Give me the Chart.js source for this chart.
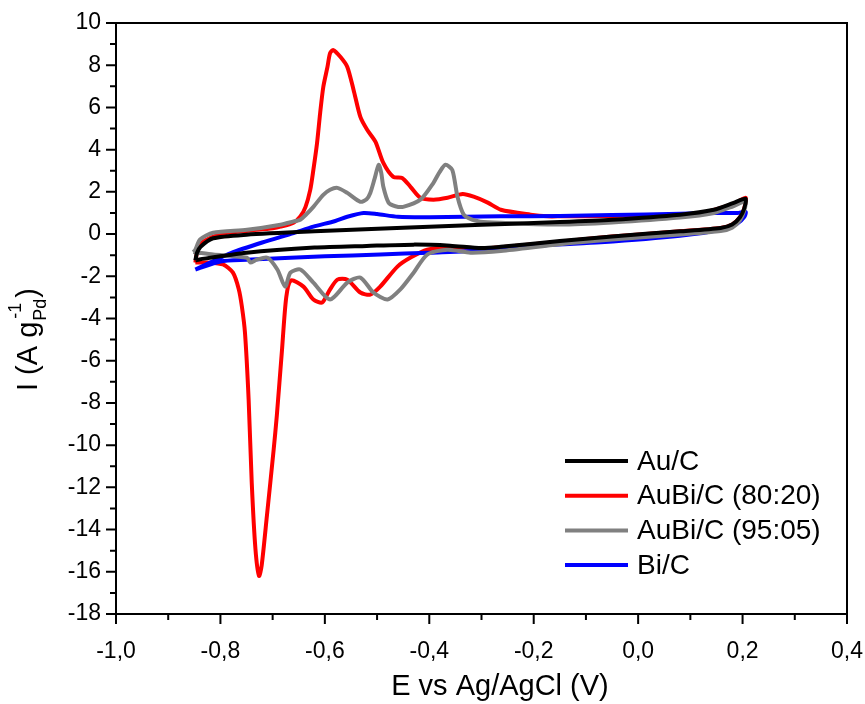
<!DOCTYPE html>
<html>
<head>
<meta charset="utf-8">
<script src="https://cdn.jsdelivr.net/npm/chart.js@4.4.0/dist/chart.umd.min.js"></script>
<style>
    html, body { margin: 0; padding: 0; background: #fff; }
</style>
</head>
<body>
<canvas id="cvChart" width="865" height="704"></canvas>
<script>
// Series names and colours (legend order)
const seriesNames = ['Au/C', 'AuBi/C (80:20)', 'AuBi/C (95:05)', 'Bi/C'];
const seriesColors = ['#000000', '#ff0000', '#808080', '#0000ff'];

// Au/C : potential (V) and current (A g-1), anodic then cathodic scan
const auC_E = [-0.848, -0.845, -0.838, -0.814, -0.75, -0.62, -0.45, -0.30, -0.15, -0.05, 0.08, 0.145, 0.183, 0.206,
    0.203, 0.195, 0.18, 0.158, 0.08, -0.05, -0.15, -0.263, -0.30, -0.36, -0.43, -0.52, -0.62, -0.75, -0.84, -0.848];
const auC_I = [-1.25, -0.9, -0.6, -0.2, -0.03, 0.13, 0.3, 0.44, 0.57, 0.68, 0.92, 1.15, 1.48, 1.67,
    1.2, 0.8, 0.45, 0.29, 0.13, -0.11, -0.33, -0.6, -0.66, -0.55, -0.5, -0.56, -0.64, -0.88, -1.2, -1.25];

// AuBi/C (80:20)
const auBi80_E = [-0.848, -0.845, -0.835, -0.80, -0.75, -0.70, -0.685, -0.66, -0.647, -0.637, -0.628, -0.622, -0.615, -0.609,
    -0.603, -0.595, -0.59, -0.584, -0.570, -0.557, -0.545, -0.532, -0.519, -0.503, -0.488, -0.469, -0.452, -0.436, -0.417,
    -0.392, -0.365, -0.336, -0.315, -0.288, -0.263, -0.206, -0.173, -0.15, -0.05, 0.05, 0.12, 0.16, 0.19, 0.206,
    0.203, 0.195, 0.18, 0.158, 0.08, -0.05, -0.15, -0.263, -0.30, -0.36, -0.404, -0.435, -0.461, -0.494, -0.513, -0.532,
    -0.557, -0.576, -0.592, -0.605, -0.622, -0.641, -0.665, -0.674, -0.682, -0.692, -0.698, -0.711, -0.721, -0.726,
    -0.733, -0.740, -0.746, -0.753, -0.759, -0.765, -0.776, -0.795, -0.825, -0.848];
const auBi80_I = [-1.35, -0.9, -0.4, 0.0, 0.15, 0.28, 0.35, 0.54, 0.83, 1.29, 2.09, 3.04, 4.3, 5.74,
    6.97, 7.92, 8.57, 8.72, 8.39, 7.92, 6.83, 5.55, 4.94, 4.37, 3.37, 2.71, 2.66, 2.24, 1.72,
    1.63, 1.72, 1.9, 1.77, 1.49, 1.15, 0.92, 0.84, 0.84, 0.86, 0.88, 1.0, 1.25, 1.52, 1.72,
    1.2, 0.8, 0.45, 0.29, 0.13, -0.12, -0.36, -0.62, -0.68, -0.62, -0.74, -1.1, -1.54, -2.49, -2.87, -2.77,
    -2.16, -2.16, -2.7, -3.24, -3.1, -2.49, -2.2, -3.0, -5.46, -8.6, -10.2, -13.35, -15.7, -16.2,
    -14.9, -11.8, -7.83, -4.67, -3.42, -2.6, -1.83, -1.44, -1.35, -1.35];

// AuBi/C (95:05)
const auBi95_E = [-0.852, -0.848, -0.839, -0.814, -0.749, -0.685, -0.66, -0.647, -0.635, -0.622, -0.603, -0.59, -0.576,
    -0.557, -0.532, -0.52, -0.513, -0.505, -0.497, -0.492, -0.488, -0.478, -0.465, -0.45, -0.417, -0.392, -0.38, -0.369,
    -0.356, -0.346, -0.334, -0.318, -0.302, -0.263, -0.15, -0.05, 0.08, 0.145, 0.183, 0.206,
    0.203, 0.195, 0.18, 0.158, 0.08, -0.05, -0.15, -0.263, -0.321, -0.365, -0.404, -0.43, -0.455, -0.48, -0.507,
    -0.532, -0.557, -0.59, -0.622, -0.647, -0.666, -0.676, -0.691, -0.71, -0.73, -0.743, -0.749, -0.814, -0.843, -0.852];
const auBi95_I = [-0.85, -0.74, -0.26, 0.06, 0.2, 0.44, 0.6, 0.68, 0.95, 1.29, 1.86, 2.1, 2.19,
    1.95, 1.53, 1.65, 1.95, 2.6, 3.28, 2.9, 2.24, 1.49, 1.32, 1.29, 1.63, 2.43, 2.95, 3.28,
    3.04, 1.77, 0.92, 0.68, 0.59, 0.54, 0.45, 0.55, 0.78, 1.0, 1.33, 1.55,
    1.1, 0.65, 0.3, 0.14, -0.02, -0.26, -0.48, -0.8, -0.88, -0.74, -0.97, -1.83, -2.61, -3.1, -2.77,
    -2.06, -2.3, -3.1, -2.3, -1.68, -1.83, -2.49, -1.68, -1.12, -1.21, -1.35, -1.12, -0.97, -0.88, -0.85];

// Bi/C
const biC_E = [-0.848, -0.82, -0.78, -0.72, -0.66, -0.622, -0.58, -0.557, -0.526, -0.5, -0.46, -0.40, -0.263, -0.15,
    -0.05, 0.08, 0.15, 0.19, 0.206,
    0.203, 0.19, 0.158, 0.08, -0.072, -0.173, -0.302, -0.40, -0.494, -0.60, -0.666, -0.75, -0.80, -0.848];
const biC_I = [-1.68, -1.35, -0.9, -0.4, 0.05, 0.35, 0.62, 0.82, 1.0, 0.95, 0.82, 0.8, 0.84, 0.86,
    0.9, 0.96, 1.0, 1.0, 1.05,
    0.8, 0.5, 0.2, -0.08, -0.39, -0.52, -0.78, -0.88, -0.97, -1.05, -1.12, -1.22, -1.3, -1.68];

const FONT = '"Liberation Sans", Arial, sans-serif';

function toPoints(es, is) {
    return es.map((e, i) => ({ x: e, y: is[i] }));
}

// keep the plot area where the reference has it (no label overflow padding)
function noScalePadding(s) {
    s.paddingLeft = 0;
    s.paddingRight = 0;
    s.paddingTop = 0;
    s.paddingBottom = 0;
}

// Frame, minor ticks, axis titles and legend
const decorPlugin = {
    id: 'decor',
    afterDraw(chart) {
        const ctx = chart.ctx;
        const a = chart.chartArea;
        const xs = chart.scales.x;
        const ys = chart.scales.y;
        ctx.save();
        ctx.strokeStyle = '#000';
        ctx.lineWidth = 2;
        ctx.strokeRect(a.left, a.top, a.right - a.left, a.bottom - a.top);

        // tick marks, outside
        ctx.beginPath();
        const xt = xs.ticks.map(t => t.value);
        xt.forEach((v, i) => {
            const px = xs.getPixelForValue(v);
            ctx.moveTo(px, a.bottom);
            ctx.lineTo(px, a.bottom + 10);
            if (i < xt.length - 1) {
                const mx = xs.getPixelForValue((v + xt[i + 1]) / 2);
                ctx.moveTo(mx, a.bottom);
                ctx.lineTo(mx, a.bottom + 6);
            }
        });
        const yt = ys.ticks.map(t => t.value);
        yt.forEach((v, i) => {
            const py = ys.getPixelForValue(v);
            ctx.moveTo(a.left, py);
            ctx.lineTo(a.left - 10, py);
            if (i < yt.length - 1) {
                const my = ys.getPixelForValue((v + yt[i + 1]) / 2);
                ctx.moveTo(a.left, my);
                ctx.lineTo(a.left - 6, my);
            }
        });
        ctx.stroke();

        // x title
        ctx.fillStyle = '#000';
        ctx.font = '29px ' + FONT;
        ctx.textAlign = 'center';
        ctx.textBaseline = 'middle';
        ctx.fillText('E vs Ag/AgCl (V)', 500, 687);

        // y title with sub/superscript
        ctx.translate(37, 391);
        ctx.rotate(-Math.PI / 2);
        ctx.textAlign = 'left';
        ctx.textBaseline = 'alphabetic';
        ctx.font = '29px ' + FONT;
        const base = 'I (A g';
        ctx.fillText(base, 0, 0);
        let w = ctx.measureText(base).width + 1;
        ctx.font = '18px ' + FONT;
        ctx.fillText('-1', w + 2, -16);
        ctx.fillText('Pd', w, 9);
        const sw = Math.max(ctx.measureText('-1').width + 2, ctx.measureText('Pd').width);
        ctx.font = '29px ' + FONT;
        ctx.fillText(')', w + sw + 1, 0);
        ctx.restore();

        // legend
        ctx.save();
        ctx.font = '28px ' + FONT;
        ctx.textBaseline = 'middle';
        ctx.textAlign = 'left';
        seriesNames.forEach((name, i) => {
            const y = 461 + i * 34.7;
            ctx.strokeStyle = seriesColors[i];
            ctx.lineWidth = 4;
            ctx.beginPath();
            ctx.moveTo(565, y);
            ctx.lineTo(628, y);
            ctx.stroke();
            ctx.fillStyle = '#000';
            ctx.fillText(name, 637, y + 1);
        });
        ctx.restore();
    }
};

const seriesE = [auC_E, auBi80_E, auBi95_E, biC_E];
const seriesI = [auC_I, auBi80_I, auBi95_I, biC_I];
// drawing order: black on top, then grey, blue, red underneath
const drawOrder = [0, 3, 1, 2];

const datasets = seriesNames.map((name, i) => ({
    label: name,
    data: toPoints(seriesE[i], seriesI[i]),
    borderColor: seriesColors[i],
    borderWidth: 4,
    pointRadius: 0,
    showLine: true,
    fill: false,
    tension: 0.25,
    order: drawOrder[i]
}));

new Chart(document.getElementById('cvChart'), {
    type: 'scatter',
    data: { datasets: datasets },
    plugins: [decorPlugin],
    options: {
        responsive: false,
        animation: false,
        devicePixelRatio: 1,
        layout: { autoPadding: false, padding: { left: 0, right: 18, top: 23, bottom: 0 } },
        plugins: {
            legend: { display: false },
            tooltip: { enabled: false }
        },
        scales: {
            x: {
                type: 'linear',
                min: -1,
                max: 0.4,
                afterFit: s => { s.height = 90; noScalePadding(s); },
                grid: { display: false, drawTicks: false },
                border: { display: false },
                ticks: {
                    stepSize: 0.2,
                    padding: 24,
                    color: '#000',
                    font: { family: FONT, size: 23 },
                    callback: v => (Math.round(v * 10) / 10).toFixed(1).replace('.', ',')
                }
            },
            y: {
                type: 'linear',
                min: -18,
                max: 10,
                afterFit: s => { s.width = 116; noScalePadding(s); },
                grid: { display: false, drawTicks: false },
                border: { display: false },
                ticks: {
                    stepSize: 2,
                    padding: 15,
                    color: '#000',
                    font: { family: FONT, size: 23 },
                    callback: v => String(v)
                }
            }
        }
    }
});
</script>
</body>
</html>
